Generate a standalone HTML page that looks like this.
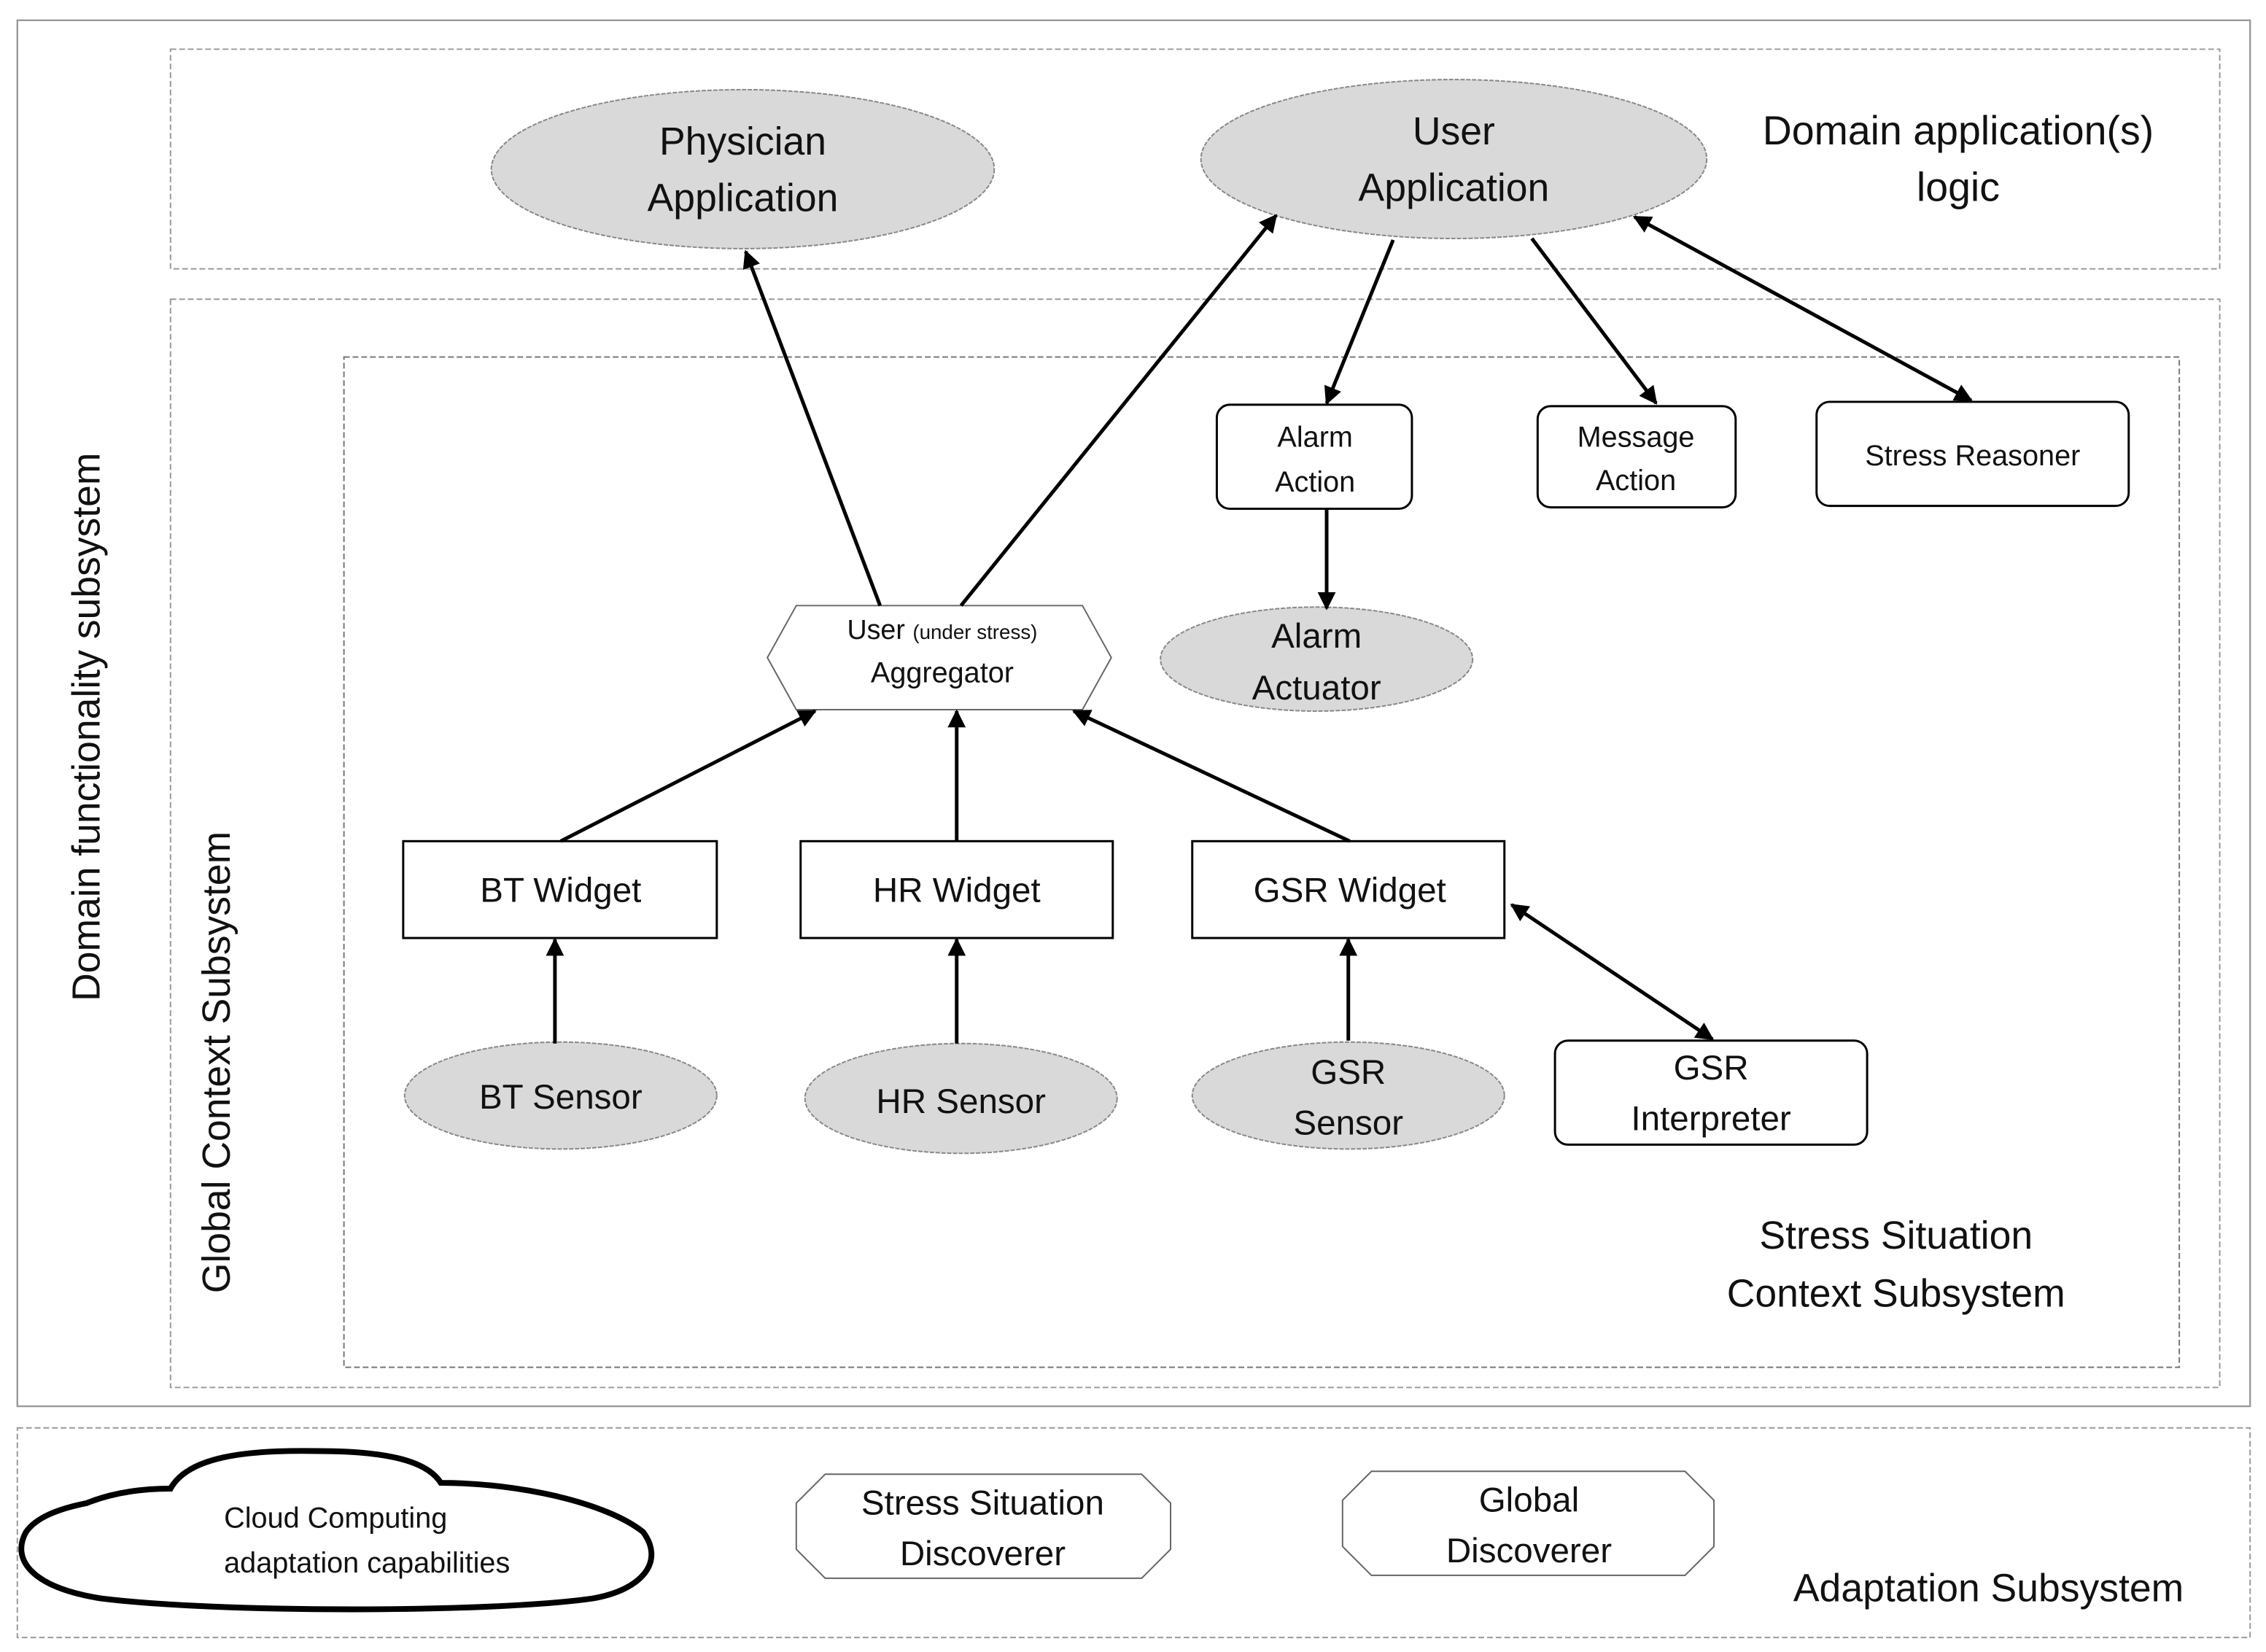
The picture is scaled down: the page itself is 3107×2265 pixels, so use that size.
<!DOCTYPE html>
<html><head><meta charset="utf-8"><style>
html,body{margin:0;padding:0;background:#fff;}
svg{display:block;}
text{font-family:"Liberation Sans",sans-serif;fill:#111;text-anchor:middle;}
</style></head><body>
<svg width="3107" height="2265" viewBox="0 0 1568 1143" xmlns="http://www.w3.org/2000/svg">
<defs>
<marker id="ah" viewBox="0 0 10 10" refX="9" refY="5" markerWidth="5" markerHeight="5" orient="auto-start-reverse">
<path d="M0,0 L10,5 L0,10 z" fill="#000"/></marker>
</defs>
<rect x="0" y="0" width="1568" height="1143" fill="#fff"/>
<rect x="12" y="14" width="1545" height="959" fill="none" stroke="#999" stroke-width="1.2"/>
<rect x="118" y="34" width="1418" height="152" fill="none" stroke="#999" stroke-width="1" stroke-dasharray="4,2"/>
<rect x="118" y="207" width="1418" height="753" fill="none" stroke="#999" stroke-width="1" stroke-dasharray="4,2"/>
<rect x="238" y="247" width="1270" height="699" fill="none" stroke="#777" stroke-width="1" stroke-dasharray="4,2"/>
<rect x="12" y="988" width="1545" height="145" fill="none" stroke="#999" stroke-width="1" stroke-dasharray="4,2"/>

<text x="0" y="0" font-size="27" transform="translate(69,503) rotate(-90)">Domain functionality subsystem</text>
<text x="0" y="0" font-size="27" transform="translate(159,735) rotate(-90)">Global Context Subsystem</text>
<text x="1355" y="100" font-size="28">Domain application(s)</text>
<text x="1355" y="139" font-size="28">logic</text>
<text x="1312" y="864" font-size="27">Stress Situation</text>
<text x="1312" y="904" font-size="27">Context Subsystem</text>
<text x="1376" y="1108" font-size="27">Adaptation Subsystem</text>

<g fill="#d9d9d9" stroke="#888" stroke-width="1" stroke-dasharray="3,1">
<ellipse cx="514" cy="117" rx="174" ry="55"/>
<ellipse cx="1006" cy="110" rx="175" ry="55"/>
<ellipse cx="911" cy="456" rx="108" ry="36"/>
<ellipse cx="388" cy="758" rx="108" ry="37"/>
<ellipse cx="665" cy="760" rx="108" ry="38"/>
<ellipse cx="933" cy="758" rx="108" ry="37"/>
</g>
<text x="514" y="107" font-size="27">Physician</text>
<text x="514" y="146" font-size="27">Application</text>
<text x="1006" y="100" font-size="27">User</text>
<text x="1006" y="139" font-size="27">Application</text>
<text x="911" y="448" font-size="24">Alarm</text>
<text x="911" y="484" font-size="24">Actuator</text>
<text x="388" y="767" font-size="24">BT Sensor</text>
<text x="665" y="770" font-size="24">HR Sensor</text>
<text x="933" y="750" font-size="24">GSR</text>
<text x="933" y="785" font-size="24">Sensor</text>

<g fill="#fff" stroke="#000" stroke-width="1.5">
<rect x="842" y="280" width="135" height="72" rx="9"/>
<rect x="1064" y="281" width="137" height="70" rx="9"/>
<rect x="1257" y="278" width="216" height="72" rx="9"/>
<rect x="1076" y="720" width="216" height="72" rx="9"/>
<rect x="279" y="582" width="217" height="67"/>
<rect x="554" y="582" width="216" height="67"/>
<rect x="825" y="582" width="216" height="67"/>
</g>
<text x="910" y="309" font-size="20">Alarm</text>
<text x="910" y="340" font-size="20">Action</text>
<text x="1132" y="309" font-size="20">Message</text>
<text x="1132" y="339" font-size="20">Action</text>
<text x="1365" y="322" font-size="20">Stress Reasoner</text>
<text x="1184" y="747" font-size="24">GSR</text>
<text x="1184" y="782" font-size="24">Interpreter</text>
<text x="388" y="624" font-size="24">BT Widget</text>
<text x="662" y="624" font-size="24">HR Widget</text>
<text x="934" y="624" font-size="24">GSR Widget</text>

<polygon points="551,419 749,419 769,455 749,491 551,491 531,455" fill="#fff" stroke="#666" stroke-width="1"/>
<text x="652" y="442" font-size="19">User <tspan font-size="14">(under stress)</tspan></text>
<text x="652" y="472" font-size="20">Aggregator</text>

<polygon points="571,1020 790,1020 810,1040 810,1072 790,1092 571,1092 551,1072 551,1040" fill="#fff" stroke="#666" stroke-width="1"/>
<polygon points="949,1018 1166,1018 1186,1038 1186,1070 1166,1090 949,1090 929,1070 929,1038" fill="#fff" stroke="#666" stroke-width="1"/>
<text x="680" y="1048" font-size="24">Stress Situation</text>
<text x="680" y="1083" font-size="24">Discoverer</text>
<text x="1058" y="1046" font-size="24">Global</text>
<text x="1058" y="1081" font-size="24">Discoverer</text>

<path d="M60,1040 C85,1030 110,1030 118,1030 C130,1008 170,1003 220,1004 C265,1004 295,1010 305,1026 C360,1026 420,1040 445,1060 C460,1080 445,1100 410,1106 C340,1116 150,1116 70,1106 C20,1098 8,1078 18,1060 C25,1050 40,1044 60,1040 Z" fill="#fff" stroke="#000" stroke-width="4"/>
<text x="155" y="1057" font-size="20" style="text-anchor:start">Cloud Computing</text>
<text x="155" y="1088" font-size="20" style="text-anchor:start">adaptation capabilities</text>

<g stroke="#000" stroke-width="2.5" fill="none">
<line x1="609" y1="419" x2="516" y2="174" marker-end="url(#ah)"/>
<line x1="665" y1="419" x2="883" y2="149" marker-end="url(#ah)"/>
<line x1="964" y1="166" x2="918" y2="279" marker-end="url(#ah)"/>
<line x1="1060" y1="165" x2="1146" y2="279" marker-end="url(#ah)"/>
<line x1="1131" y1="150" x2="1364" y2="277" marker-start="url(#ah)" marker-end="url(#ah)"/>
<line x1="918" y1="352" x2="918" y2="421" marker-end="url(#ah)"/>
<line x1="388" y1="582" x2="564" y2="492" marker-end="url(#ah)"/>
<line x1="662" y1="582" x2="662" y2="492" marker-end="url(#ah)"/>
<line x1="934" y1="582" x2="743" y2="492" marker-end="url(#ah)"/>
<line x1="384" y1="722" x2="384" y2="650" marker-end="url(#ah)"/>
<line x1="662" y1="722" x2="662" y2="650" marker-end="url(#ah)"/>
<line x1="933" y1="720" x2="933" y2="650" marker-end="url(#ah)"/>
<line x1="1046" y1="626" x2="1185" y2="719" marker-start="url(#ah)" marker-end="url(#ah)"/>
</g>
</svg>
</body></html>
